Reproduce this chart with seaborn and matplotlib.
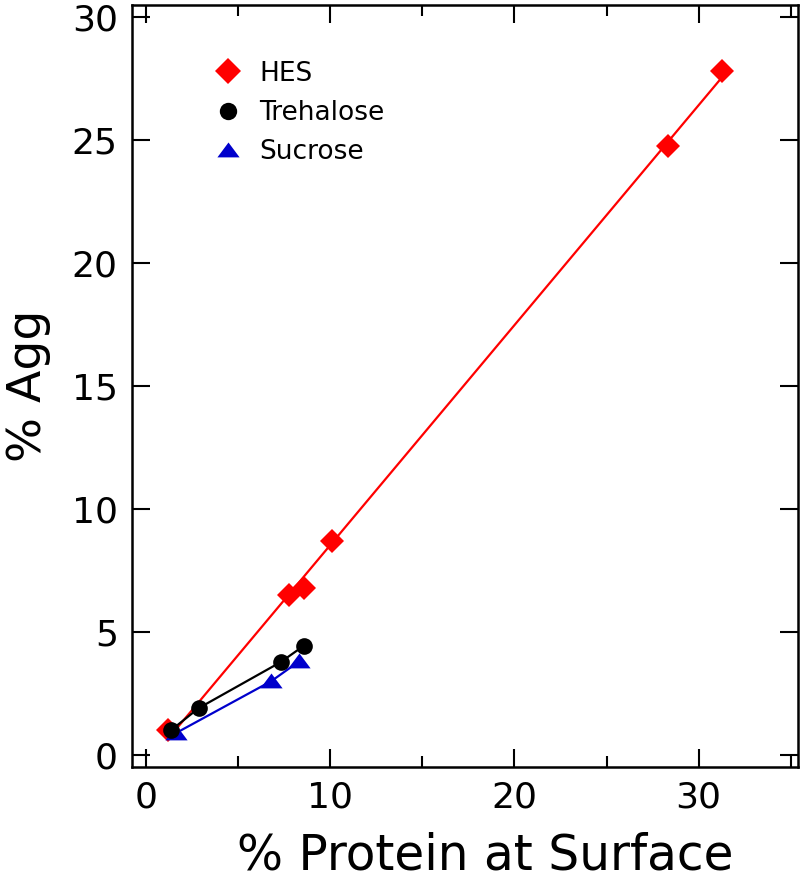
import matplotlib
matplotlib.use("Agg")
import matplotlib.pyplot as plt
from matplotlib.lines import Line2D
from matplotlib.ticker import MultipleLocator
import seaborn as sns
import pandas as pd

# data
hes_x = [1.2, 7.75, 8.6, 10.1, 28.35, 31.25]
hes_y = [1.0, 6.5, 6.8, 8.7, 24.75, 27.8]
tre_x = [1.35, 2.85, 7.3, 8.55]
tre_y = [1.0, 1.9, 3.77, 4.43]
suc_x = [1.65, 6.8, 8.3]
suc_y = [0.9, 3.0, 3.8]

names = ['HES', 'Trehalose', 'Sucrose']
colors = ['#ff0000', '#000000', '#0000cc']
tri = [(-1, -0.62), (1, -0.62), (0, 0.72)]  # flattened triangle like the original
markers = ['D', 'o', tri]

sns.set_style("ticks")
plt.rcParams['font.family'] = ['DejaVu Sans']
plt.rcParams['text.color'] = 'black'
plt.rcParams['axes.labelcolor'] = 'black'
plt.rcParams['xtick.color'] = 'black'
plt.rcParams['ytick.color'] = 'black'

fig = plt.figure(figsize=(8, 8.81), dpi=100)
ax = fig.add_axes([0.1646, 0.1294, 0.833, 0.865])

# HES: straight fitted line through the points
hes = pd.DataFrame({'x': hes_x, 'y': hes_y})
sns.regplot(data=hes, x='x', y='y', ax=ax, ci=None, truncate=True, color=colors[0],
            marker='D', scatter_kws={'s': 0, 'alpha': 0}, line_kws={'linewidth': 1.6})
ax.plot(hes_x, hes_y, linestyle='none', marker='D', color=colors[0], markersize=12.5,
        markeredgewidth=0)

# sucrose then trehalose (trehalose sits on top)
suc = pd.DataFrame({'x': suc_x, 'y': suc_y})
sns.lineplot(data=suc, x='x', y='y', ax=ax, color=colors[2], marker=tri, markersize=16,
             markeredgewidth=0, linewidth=1.6, legend=False)
tre = pd.DataFrame({'x': tre_x, 'y': tre_y})
sns.lineplot(data=tre, x='x', y='y', ax=ax, color=colors[1], marker='o', markersize=12,
             markeredgewidth=0, linewidth=1.6, legend=False)

ax.set_xlim(-0.78, 35.4)
ax.set_ylim(-0.49, 30.49)
ax.xaxis.set_major_locator(MultipleLocator(10))
ax.xaxis.set_minor_locator(MultipleLocator(5))
ax.yaxis.set_major_locator(MultipleLocator(5))

ax.tick_params(which='both', direction='in', top=True, right=True, width=1.5, color='black')
ax.tick_params(which='major', length=13, labelsize=26, pad=10)
ax.tick_params(which='minor', length=8)
for s in ax.spines.values():
    s.set_linewidth(1.8)
    s.set_color('black')

ax.set_xlabel('% Protein at Surface', fontsize=35, labelpad=12)
ax.set_ylabel('% Agg', fontsize=34, labelpad=15)
ax.xaxis.label.set_x(0.53)

handles = [Line2D([], [], linestyle='none', marker=markers[i], color=colors[i],
                  markersize=[13.5, 12.5, 16][i], markeredgewidth=0) for i in range(3)]
ax.legend(handles, names, loc='upper left', bbox_to_anchor=(0.085, 0.958), frameon=False,
          fontsize=19, handletextpad=0.6, labelspacing=0.5, handlelength=1.2)

fig.savefig('out.png', dpi=100)
